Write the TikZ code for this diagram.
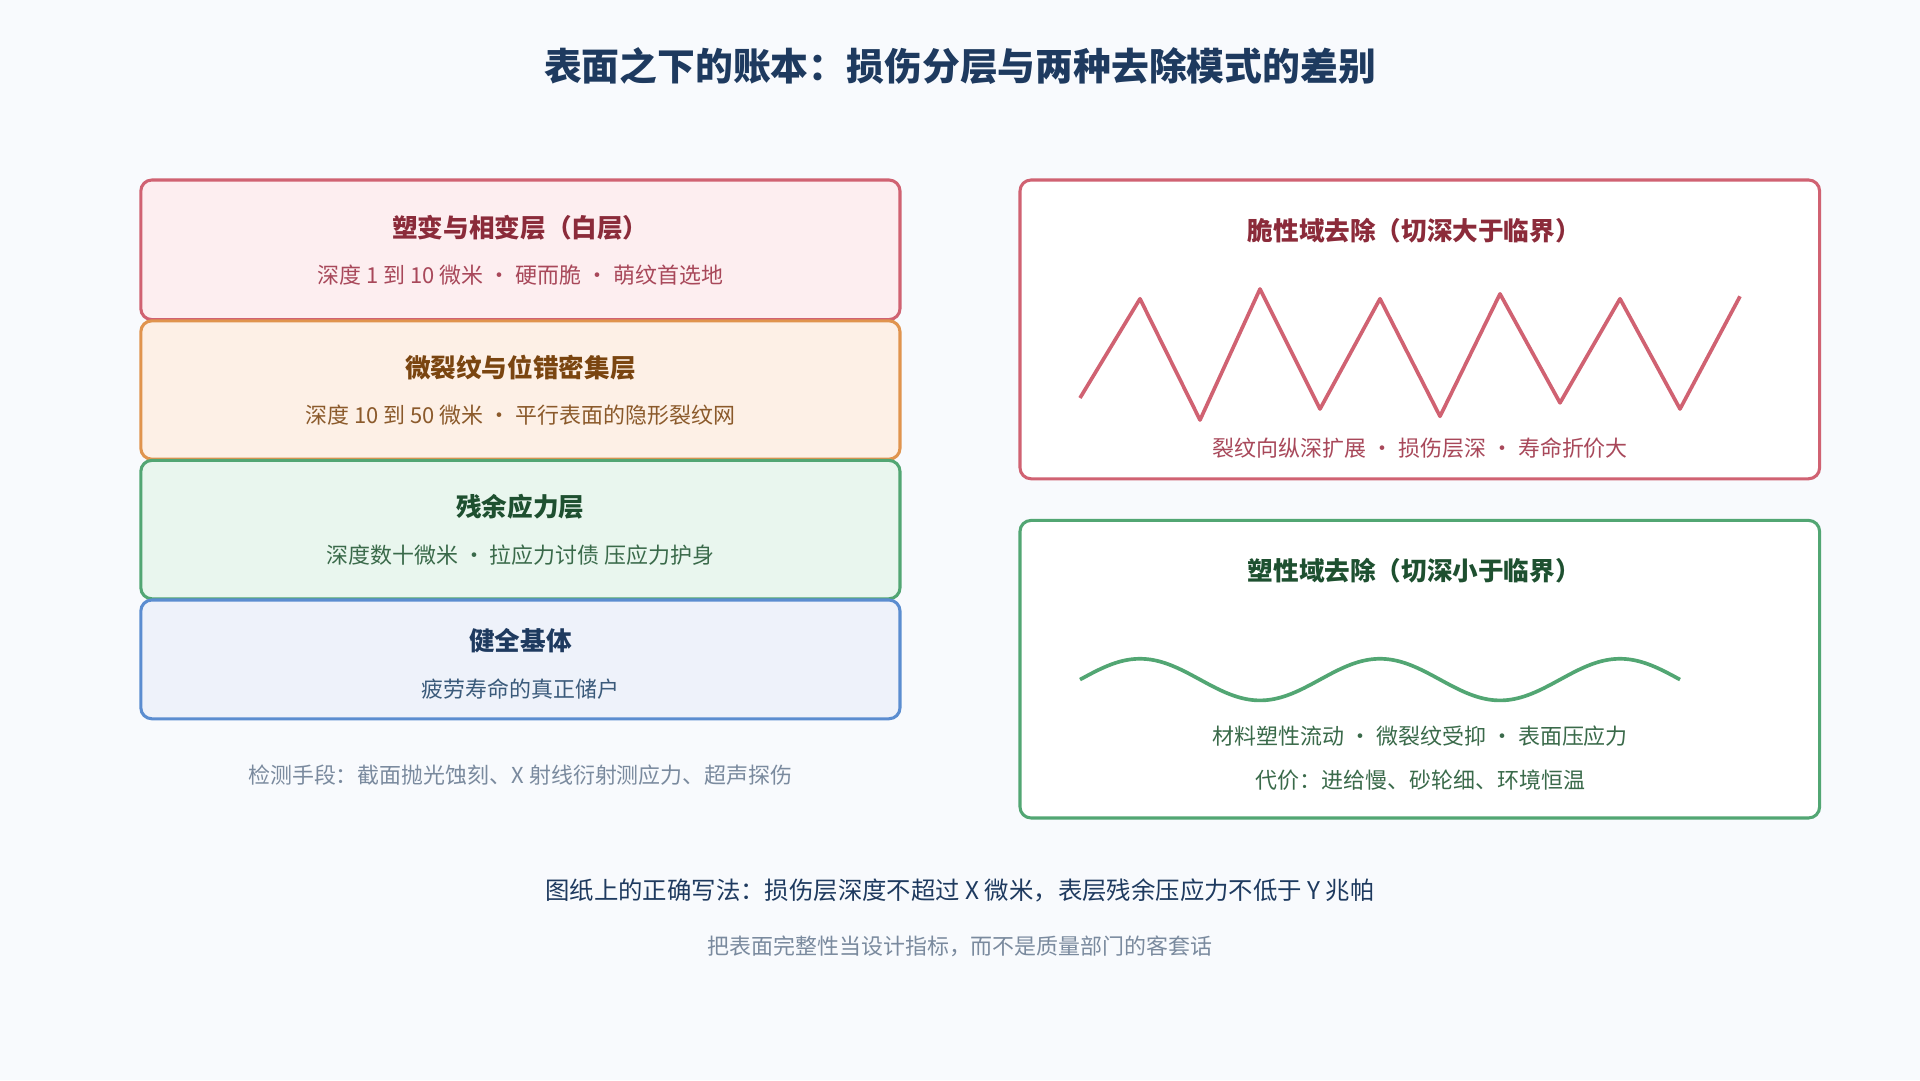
\documentclass[tikz,border=0pt]{standalone}
\usepackage{fontspec}
\setmainfont{Noto Sans CJK SC}
\begin{document}
\definecolor{bg}{HTML}{F8FAFD}
\definecolor{navy}{HTML}{1E3A5F}
\definecolor{rb}{HTML}{D06272}\definecolor{rf}{HTML}{FDEEF0}\definecolor{rt}{HTML}{8B2B3A}\definecolor{rs}{HTML}{A8485A}
\definecolor{ob}{HTML}{E0944E}\definecolor{of}{HTML}{FDF0E6}\definecolor{ot}{HTML}{7A4510}\definecolor{os}{HTML}{8B5A2B}
\definecolor{gb}{HTML}{52A673}\definecolor{gf}{HTML}{E9F6EE}\definecolor{gt}{HTML}{1E5030}\definecolor{gs}{HTML}{3A6A4A}
\definecolor{bb}{HTML}{5B8DD0}\definecolor{bf}{HTML}{EEF2FA}\definecolor{bt}{HTML}{1E3A5F}\definecolor{bs}{HTML}{3A5A7A}
\definecolor{grey}{HTML}{7A8A9E}
\begin{tikzpicture}[x=1bp,y=-1bp,
  box/.style={rounded corners=9bp,line width=2.5bp},
  ttl/.style={font=\fontsize{21}{24}\selectfont\bfseries},
  sub/.style={font=\fontsize{18}{22}\selectfont}]
\fill[bg] (0,0) rectangle (1568,882);
\useasboundingbox (0,0) rectangle (1568,882);
\node[font=\fontsize{31}{36}\selectfont\bfseries,text=navy] (title) at (784,54) {表面之下的账本：损伤分层与两种去除模式的差别};
% layers
\draw[box,draw=rb,fill=rf] (115,147) rectangle (735,261);
\draw[box,draw=ob,fill=of] (115,262) rectangle (735,375);
\draw[box,draw=gb,fill=gf] (115,376) rectangle (735,489);
\draw[box,draw=bb,fill=bf] (115,490) rectangle (735,587);
\node[ttl,text=rt] (l1t) at (425,186) {塑变与相变层（白层）};
\node[sub,text=rs] (l1s) at (425,225) {深度 1 到 10 微米 · 硬而脆 · 萌纹首选地};
\node[ttl,text=ot] (l2t) at (425,300) {微裂纹与位错密集层};
\node[sub,text=os] (l2s) at (425,339) {深度 10 到 50 微米 · 平行表面的隐形裂纹网};
\node[ttl,text=gt] (l3t) at (425,414) {残余应力层};
\node[sub,text=gs] (l3s) at (425,453) {深度数十微米 · 拉应力讨债 压应力护身};
\node[ttl,text=bt] (l4t) at (425,523) {健全基体};
\node[sub,text=bs] (l4s) at (425,563) {疲劳寿命的真正储户};
\node[sub,text=grey] (det) at (425,633) {检测手段：截面抛光蚀刻、X 射线衍射测应力、超声探伤};
% right boxes
\draw[box,draw=rb,fill=white] (833,147) rectangle (1486,391);
\node[ttl,text=rt] (bt1) at (1155,188) {脆性域去除（切深大于临界）};
\draw[rb,line width=3bp,line join=round] (882,325)--(931,244)--(980,343)--(1029,236)--(1078,334)--(1127,244)--(1176,340)--(1225,240)--(1274,329)--(1323,244)--(1372,334)--(1421,242);
\node[sub,text=rs] (bs1) at (1160,366) {裂纹向纵深扩展 · 损伤层深 · 寿命折价大};
\draw[box,draw=gb,fill=white] (833,425) rectangle (1486,668);
\node[ttl,text=gt] (bt2) at (1155,466) {塑性域去除（切深小于临界）};
\draw[gb,line width=3bp,domain=0:490,samples=120,smooth] plot ({882+\x},{555-17*sin(\x/196*360)});
\node[sub,text=gs] (bs2) at (1160,601) {材料塑性流动 · 微裂纹受抑 · 表面压应力};
\node[sub,text=gs] (bs3) at (1160,637) {代价：进给慢、砂轮细、环境恒温};
\node[font=\fontsize{20}{24}\selectfont,text=navy] (m1) at (784,727) {图纸上的正确写法：损伤层深度不超过 X 微米，表层残余压应力不低于 Y 兆帕};
\node[sub,text=grey] (m2) at (784,773) {把表面完整性当设计指标，而不是质量部门的客套话};
\end{tikzpicture}
\end{document}
